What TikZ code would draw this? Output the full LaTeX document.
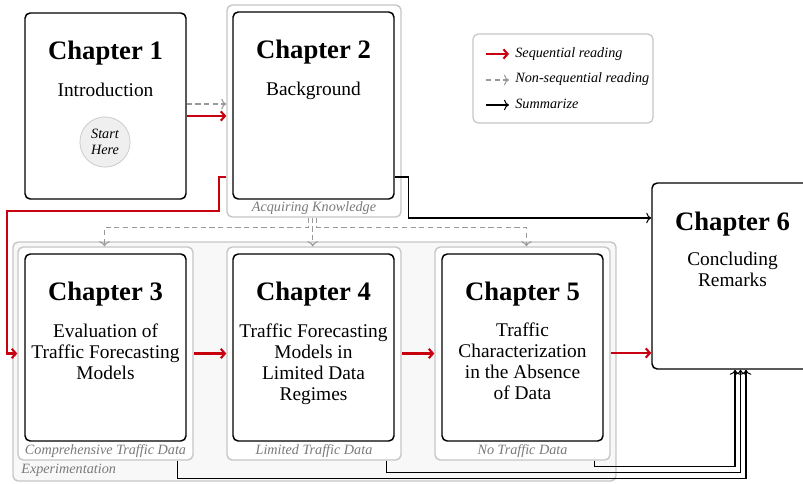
\documentclass[tikz,border=0pt]{standalone}
\usepackage{fontspec}
\setmainfont{Liberation Serif}
\usetikzlibrary{calc,fit,arrows.meta}

\definecolor{seqred}{HTML}{C8000F}
\definecolor{framegray}{HTML}{C6C6C6}
\definecolor{labelgray}{HTML}{7A7A7A}
\definecolor{expfill}{HTML}{F8F8F8}
\definecolor{startfill}{HTML}{EFEFEF}

\tikzset{
  chapbox/.style={draw=black, line width=0.85pt, rounded corners=3pt, fill=white, inner sep=0pt},
  groupbox/.style={draw=framegray, line width=0.8pt, rounded corners=3pt, fill=white, inner sep=0pt},
  expbox/.style={draw=framegray, line width=0.8pt, rounded corners=3pt, fill=expfill, inner sep=0pt},
  legendbox/.style={draw=framegray, line width=0.7pt, rounded corners=3pt, fill=white, inner sep=0pt},
  chaptitle/.style={font=\fontsize{15.4}{18}\selectfont\bfseries, inner sep=0pt},
  chaptext/.style={font=\fontsize{11.2}{12.1}\selectfont, align=center, inner sep=0pt, anchor=north},
  grouplabel/.style={font=\fontsize{8.2}{10}\selectfont\itshape, text=labelgray, inner sep=0pt},
  legendtext/.style={font=\fontsize{8.2}{10}\selectfont\itshape, anchor=west, inner sep=0pt},
  seqarrow/.style={draw=seqred, line width=1.3pt, -{Straight Barb[length=2.4pt,width=5.4pt,line width=1.2pt]}},
  nonseq/.style={draw=black!40, line width=0.6pt, dash pattern=on 3pt off 2pt, ->},
  summ/.style={draw=black, line width=0.6pt, ->},
}

\begin{document}
\begin{tikzpicture}[x=0.5778pt, y=-0.5778pt]
  \useasboundingbox (0,0) rectangle (803,483);
  \clip (0,0) rectangle (803,483);

  % experimentation frame and data-regime groups
  \node[expbox, fit={(13,242) (616,481)}] (exp) {};
  \node[grouplabel, anchor=west] (explabel) at (21,470) {Experimentation};

  \node[groupbox, fit={(227,5) (401,217)}] (g2) {};
  \node[groupbox, fit={(18,247) (193,460)}] (g3) {};
  \node[groupbox, fit={(227,247) (401,460)}] (g4) {};
  \node[groupbox, fit={(435,247) (610,460)}] (g5) {};

  \node[grouplabel] (l2) at (314,208) {Acquiring Knowledge};
  \node[grouplabel] (l3) at (105.5,451) {Comprehensive Traffic Data};
  \node[grouplabel] (l4) at (314,451) {Limited Traffic Data};
  \node[grouplabel] (l5) at (522.5,451) {No Traffic Data};

  % chapter boxes
  \node[chapbox, fit={(25,13) (186,199)}] (c1) {};
  \node[chapbox, fit={(233,12) (394,199)}] (c2) {};
  \node[chapbox, fit={(25,254) (186,441)}] (c3) {};
  \node[chapbox, fit={(233,254) (394,441)}] (c4) {};
  \node[chapbox, fit={(442,254) (603,441)}] (c5) {};
  \node[chapbox, fit={(652,183) (813,369)}] (c6) {};

  \node[chaptitle] (t1) at (105.5,53) {Chapter 1};
  \node[chaptext]  (x1) at (105.5,82.5) {Introduction};
  \node[draw=black!22, fill=startfill, circle, minimum size=29pt, inner sep=0pt,
        font=\fontsize{8.2}{9.6}\selectfont\itshape, align=center] (start) at (105,142)
        {Start\\Here};

  \node[chaptitle] (t2) at (313.5,52) {Chapter 2};
  \node[chaptext]  (x2) at (313.5,81.5) {Background};

  \node[chaptitle] (t3) at (105.5,294) {Chapter 3};
  \node[chaptext]  (x3) at (105.5,323.5) {Evaluation of\\Traffic Forecasting\\Models};

  \node[chaptitle] (t4) at (313.5,294) {Chapter 4};
  \node[chaptext]  (x4) at (313.5,323.5) {Traffic Forecasting\\Models in\\Limited Data\\Regimes};

  \node[chaptitle] (t5) at (522.5,294) {Chapter 5};
  \node[chaptext]  (x5) at (522.5,322.5) {Traffic\\Characterization\\in the Absence\\of Data};

  \node[chaptitle] (t6) at (732.5,224) {Chapter 6};
  \node[chaptext]  (x6) at (732.5,251.5) {Concluding\\Remarks};

  % legend
  \node[legendbox, fit={(473,34) (653,123)}] (legend) {};
  \coordinate (la) at (486,54);
  \coordinate (lb) at (486,80);
  \coordinate (lc) at (486,105);
  \draw[seqarrow] (la) -- ++(23,0);
  \draw[nonseq] (lb) -- ++(23,0);
  \draw[summ] (lc) -- ++(23,0);
  \node[legendtext] (lta) at (515,54) {Sequential reading};
  \node[legendtext] (ltb) at (515,79) {Non-sequential reading};
  \node[legendtext] (ltc) at (515,104) {Summarize};

  % chapter 1 to chapter 2
  \draw[nonseq] ($(c1.east)+(0,-2)$) coordinate (d1) -- (d1 -| g2.west);
  \draw[seqarrow] ($(c1.east)+(0,10)$) coordinate (s1) -- (s1 -| g2.west);

  % chapter 2 to chapter 3 (sequential)
  \coordinate (redturn) at (7,211);
  \draw[seqarrow] ($(g2.west)+(0,66)$) -- ++(-7,0) |- (redturn) |- (g3.west);

  % chapter 2 to the experimental chapters (non-sequential)
  \draw[nonseq] ($(g2.south)+(-5.5,0)$) -- ++(0,10) -| ($(g3.north)+(-1,0)$);
  \draw[nonseq] ($(g2.south)+(-1.3,0)$) -- ($(g4.north)+(-1.3,0)$);
  \draw[nonseq] ($(g2.south)+(2.7,0)$) -- ++(0,10) -| ($(g5.north)+(4,0)$);

  % sequential reading through the experiments
  \draw[seqarrow] (g3.east) -- (g4.west);
  \draw[seqarrow] (g4.east) -- (g5.west);
  \draw[seqarrow] ($(g5.east)+(0,-0.5)$) coordinate (s5) -- (s5 -| c6.west);

  % summaries into chapter 6
  \draw[summ] ($(c2.east)+(0,71.5)$) -- ++(13.5,0) |- ($(c6.west)+(0,-58)$);
  \draw[summ] ($(g3.south east)+(-16.5,0)$) -- ++(0,17.5) -| ($(c6.south)+(13.5,0)$);
  \draw[summ] ($(g4.south east)+(-15,0)$) -- ++(0,11.5) -| ($(c6.south)+(8,0)$);
  \draw[summ] ($(g5.south east)+(-16,0)$) -- ++(0,5.5) -| ($(c6.south)+(2.5,0)$);
\end{tikzpicture}
\end{document}
